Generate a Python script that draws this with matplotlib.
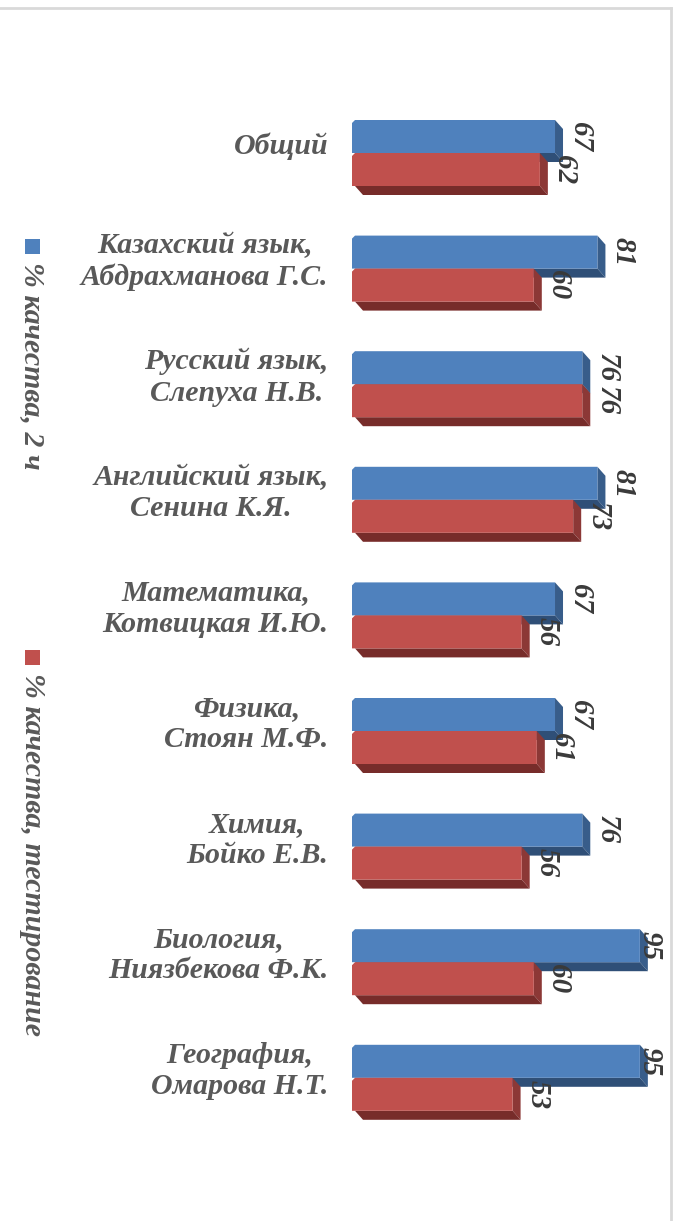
import matplotlib.pyplot as plt
from matplotlib.patches import Polygon, Rectangle
from matplotlib.lines import Line2D

# data
categories = ['Общий', 'Казахский язык,\nАбдрахманова Г.С.', 'Русский язык,\nСлепуха Н.В.',
              'Английский язык,\nСенина К.Я.', 'Математика,\nКотвицкая И.Ю.', 'Физика,\nСтоян М.Ф.',
              'Химия,\nБойко Е.В.', 'Биология,\nНиязбекова Ф.К.', 'География,\nОмарова Н.Т.']
quality_2ch = [67, 81, 76, 81, 67, 67, 76, 95, 95]
quality_test = [62, 60, 76, 73, 56, 61, 56, 60, 53]
series_names = ['% качества, 2 ч', '% качества, тестирование']

W, H = 681, 1221
fig = plt.figure(figsize=(W / 100, H / 100), dpi=100)

# axes in pixel layout
px_per_unit = 3.03
x0_px = 352
xmax = 100
cat_gap = 115.6
top_px = 153 - cat_gap / 2
bot_px = top_px + cat_gap * len(categories)
ax = fig.add_axes([x0_px / W, 1 - bot_px / H, xmax * px_per_unit / W, (bot_px - top_px) / H])
ax.set_xlim(0, xmax)
ax.set_ylim(len(categories) - 0.5, -0.5)
ax.axis('off')

bar_h = 33 / cat_gap
dx = 8 / px_per_unit
dy = 9 / cat_gap
bevel_x = 3 / px_per_unit
bevel_y = 3 / cat_gap

front = ['#4f81bd', '#c0504d']
side = ['#385d8a', '#8c3836']
bottom = ['#2f4f77', '#772c2a']

font = dict(fontweight='bold', fontstyle='italic', family='Liberation Serif')


def bar3d(y_top, val, k):
    yb = y_top + bar_h
    # side face
    ax.add_patch(Polygon([(val, y_top), (val + dx, y_top + dy), (val + dx, yb + dy), (val, yb)],
                         closed=True, facecolor=side[k], edgecolor='none', zorder=2 + k))
    # bottom face
    ax.add_patch(Polygon([(bevel_x, yb), (val, yb), (val + dx, yb + dy), (bevel_x + dx, yb + dy)],
                         closed=True, facecolor=bottom[k], edgecolor='none', zorder=2 + k))
    # front face with bevelled top-left corner
    ax.add_patch(Polygon([(0, y_top + bevel_y), (bevel_x, y_top), (val, y_top), (val, yb),
                          (0, yb)], closed=True, facecolor=front[k], edgecolor='none', zorder=2.5 + k))


for i in range(len(categories)):
    for k, vals in enumerate([quality_2ch, quality_test]):
        y_top = i - bar_h + k * bar_h
        v = vals[i]
        bar3d(y_top, v, k)
        # labels are pushed back inside the plot area near the right edge
        lx = min(v + dx + 1.2, 94.0)
        ax.text(lx, y_top + bar_h / 2, str(v), rotation=-90, ha='left', va='center',
                fontsize=21, color='#3a3a3a', zorder=6, **font)
    ax.text(-7.8, i - 0.06, categories[i], ha='right', va='center', multialignment='center',
            fontsize=21.5, color='#595959', linespacing=1.2, **font)

# legend
leg_y = [239, 650]
for k, name in enumerate(series_names):
    fig.patches.append(Rectangle((25 / W, 1 - (leg_y[k] + 15) / H), 15 / W, 15 / H,
                                 transform=fig.transFigure, facecolor=front[k], edgecolor='none'))
    fig.text(32 / W, 1 - (leg_y[k] + 23) / H, name, rotation=-90, ha='center', va='top',
             fontsize=21.5, color='#595959', **font)

# chart frame
fig.add_artist(Line2D([0, 671 / W], [1 - 8 / H, 1 - 8 / H], transform=fig.transFigure,
                      color='#d9d9d9', lw=2))
fig.add_artist(Line2D([671 / W, 671 / W], [1 - 8 / H, 0], transform=fig.transFigure,
                      color='#d9d9d9', lw=2))

fig.savefig('out.png', dpi=100)
